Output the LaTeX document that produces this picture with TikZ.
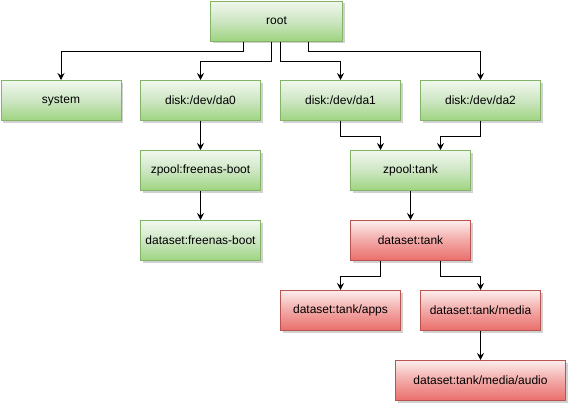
\documentclass[tikz,border=0pt]{standalone}
\usepackage{fontspec}
\setmainfont{Liberation Sans}
\usetikzlibrary{arrows.meta,shadows}
\definecolor{gtop}{HTML}{F1F8EE}
\definecolor{gmid}{HTML}{CDE6C3}
\definecolor{gbot}{HTML}{9ED480}
\definecolor{gline}{HTML}{82B366}
\definecolor{rtop}{HTML}{FCEDEC}
\definecolor{rmid}{HTML}{F2A8A6}
\definecolor{rbot}{HTML}{EA6E6A}
\definecolor{rline}{HTML}{B85450}
\tikzset{
  box/.style={rectangle, anchor=north west, minimum width=120pt, minimum height=40pt,
    inner sep=0pt, line width=1pt, font=\fontsize{12}{14}\selectfont,
    drop shadow={shadow xshift=2pt, shadow yshift=-2pt, fill=black, opacity=0.18}},
  gbox/.style={box, draw=gline, top color=gtop, bottom color=gbot, middle color=gmid},
  rbox/.style={box, draw=rline, top color=rtop, bottom color=rbot, middle color=rmid},
  arr/.style={draw=black, line width=1pt, -{Stealth[length=7pt,width=7pt,inset=2.5pt]}}
}
\begin{document}
\begin{tikzpicture}[x=1pt,y=-1pt]
\useasboundingbox (0,0) rectangle (569,407);
\node[gbox, minimum width=132pt] (root) at (210,0.5) {root};
\node[gbox] (system) at (0.5,80) {system};
\node[gbox] (da0) at (140,80) {disk:/dev/da0};
\node[gbox] (da1) at (280,80) {disk:/dev/da1};
\node[gbox] (da2) at (420,80) {disk:/dev/da2};
\node[gbox] (zboot) at (140,150) {zpool:freenas-boot};
\node[gbox] (dboot) at (140,220) {dataset:freenas-boot};
\node[gbox] (ztank) at (350,150) {zpool:tank};
\node[rbox] (dtank) at (350,220) {dataset:tank};
\node[rbox] (apps) at (280,290) {dataset:tank/apps};
\node[rbox] (media) at (420,290) {dataset:tank/media};
\node[rbox, minimum width=170pt] (audio) at (395,360) {dataset:tank/media/audio};

\draw[arr] ([xshift=-33pt]root.south) -- ++(0,10) -| (system.north);
\draw[arr] ([xshift=-5pt]root.south) -- ++(0,20) -| (da0.north);
\draw[arr] ([xshift=4pt]root.south) -- ++(0,20) -| (da1.north);
\draw[arr] ([xshift=32pt]root.south) -- ++(0,10) -| (da2.north);
\draw[arr] (da0.south) -- (zboot.north);
\draw[arr] (zboot.south) -- (dboot.north);
\draw[arr] (da1.south) -- ++(0,15) -| ([xshift=-30pt]ztank.north);
\draw[arr] (da2.south) -- ++(0,15) -| ([xshift=30pt]ztank.north);
\draw[arr] (ztank.south) -- (dtank.north);
\draw[arr] ([xshift=-30pt]dtank.south) -- ++(0,15) -| (apps.north);
\draw[arr] ([xshift=30pt]dtank.south) -- ++(0,15) -| (media.north);
\draw[arr] (media.south) -- (audio.north);
\end{tikzpicture}
\end{document}
